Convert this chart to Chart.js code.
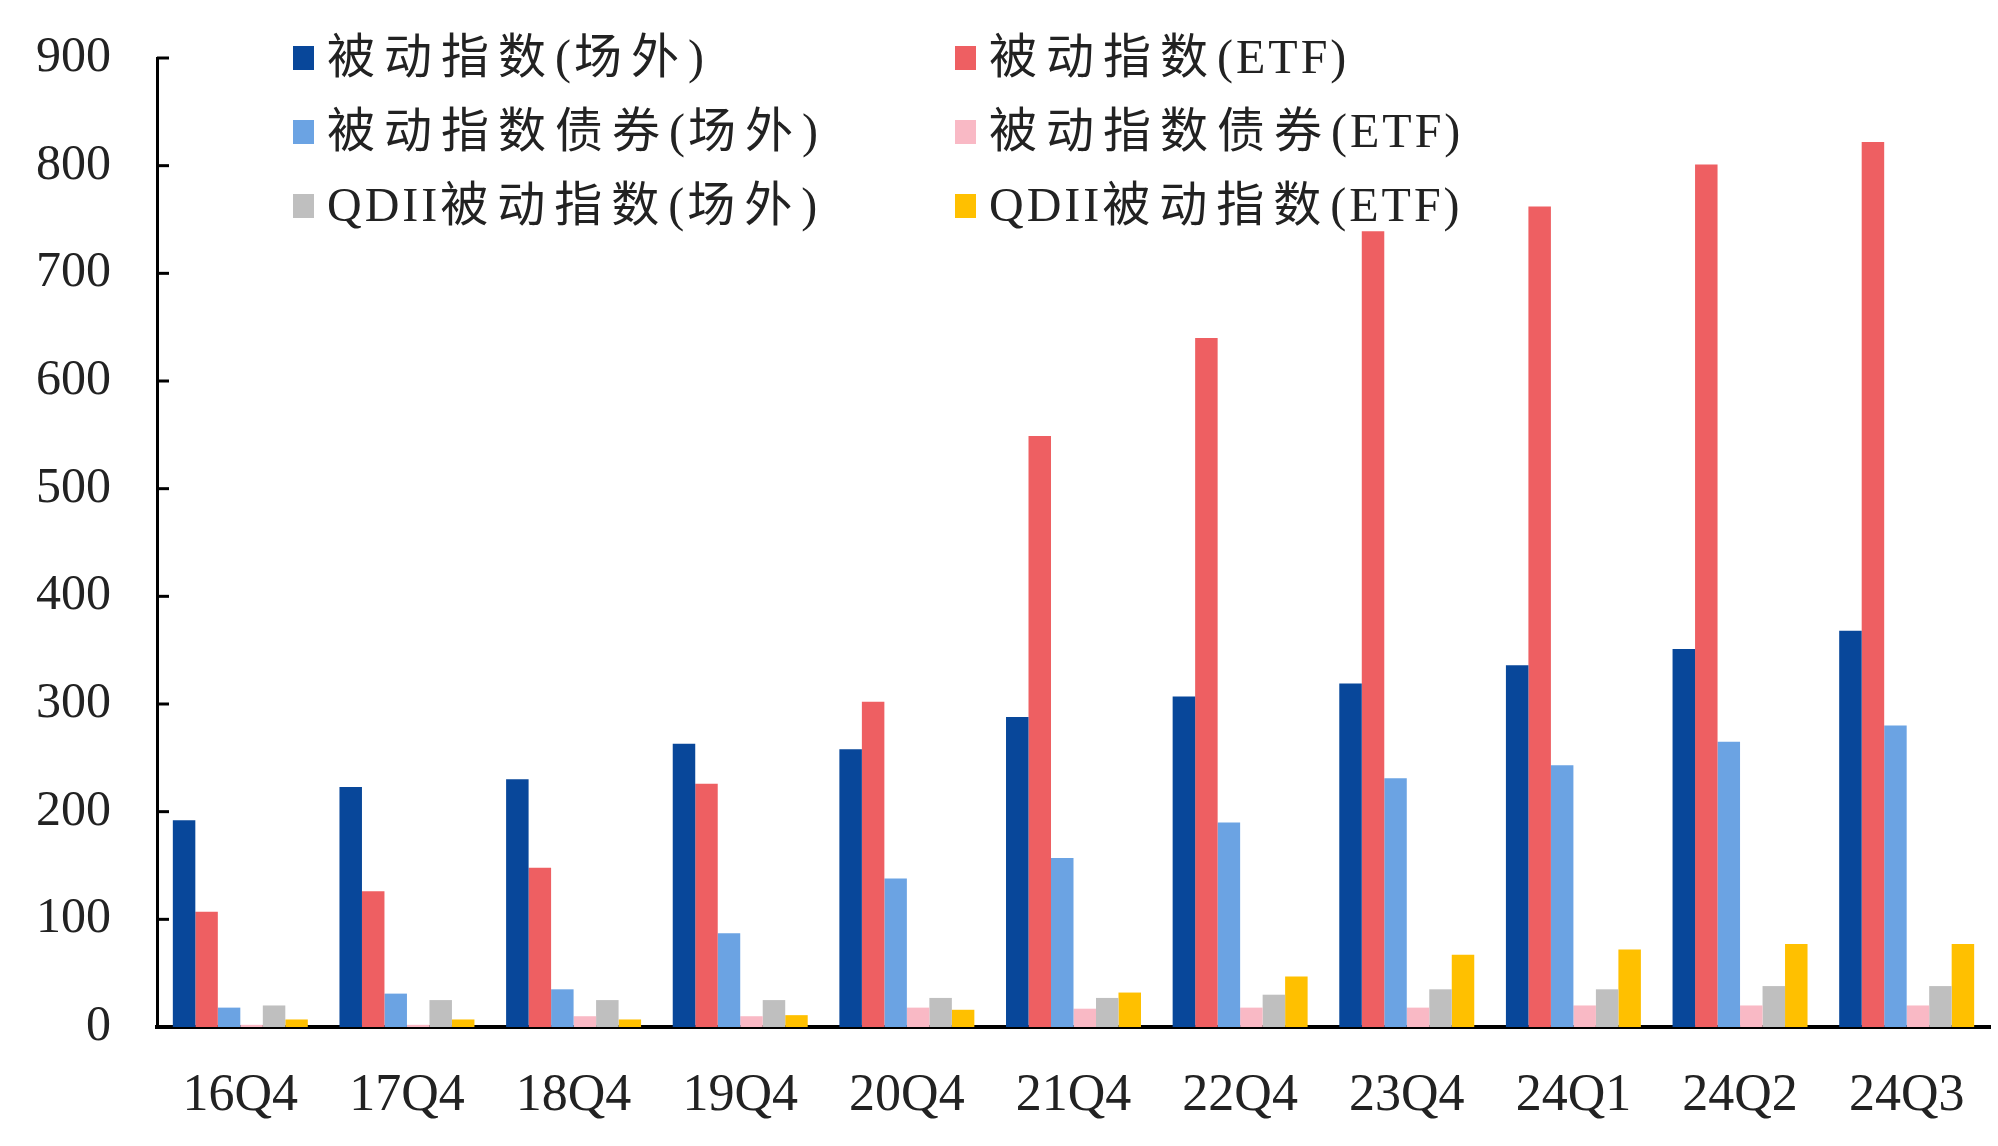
<!DOCTYPE html>
<html lang="zh">
<head>
  <meta charset="UTF-8">
  <title>被动指数基金规模</title>
  <style>
    html, body { margin: 0; padding: 0; background: #fff; }
    #wrap { width: 1998px; height: 1146px; }
  </style>
  <script src="https://cdn.jsdelivr.net/npm/chart.js"></script>
</head>
<body>
  <div id="wrap"><canvas id="chart"></canvas></div>
  <script>
    // 数据
    const quarters = ['16Q4', '17Q4', '18Q4', '19Q4', '20Q4', '21Q4', '22Q4', '23Q4', '24Q1', '24Q2', '24Q3'];
    const seriesNames = ['被动指数(场外)', '被动指数(ETF)', '被动指数债券(场外)', '被动指数债券(ETF)', 'QDII被动指数(场外)', 'QDII被动指数(ETF)'];
    const passiveOTC = [192, 223, 230, 263, 258, 288, 307, 319, 336, 351, 368];
    const passiveETF = [107, 126, 148, 226, 302, 549, 640, 739, 762, 801, 822];
    const bondOTC = [18, 31, 35, 87, 138, 157, 190, 231, 243, 265, 280];
    const bondETF = [2, 2, 10, 10, 18, 17, 18, 18, 20, 20, 20];
    const qdiiOTC = [20, 25, 25, 25, 27, 27, 30, 35, 35, 38, 38];
    const qdiiETF = [7, 7, 7, 11, 16, 32, 47, 67, 72, 77, 77];
    const yTicks = [0, 100, 200, 300, 400, 500, 600, 700, 800, 900];

    const colors = ['#08479A', '#EE5F62', '#6BA3E3', '#F9B9C5', '#BFBFBF', '#FFC000'];
    const allSeries = [passiveOTC, passiveETF, bondOTC, bondETF, qdiiOTC, qdiiETF];

    const serif = '"Liberation Serif", "Noto Sans CJK SC", serif';

    // 逐字绘制：汉字字距大，英文字距小
    function drawSpaced(ctx, text, x, y) {
      for (const ch of text) {
        ctx.fillText(ch, x, y);
        const cjk = /[\u4e00-\u9fff]/.test(ch);
        x += ctx.measureText(ch).width + (cjk ? 9 : 3);
      }
    }

    // 图例画在绘图区内，两列三行
    const legendInside = {
      id: 'legendInside',
      afterDraw(chart) {
        const ctx = chart.ctx;
        const area = chart.chartArea;
        ctx.save();
        ctx.font = '48px ' + serif;
        ctx.textBaseline = 'middle';
        chart.data.datasets.forEach((ds, i) => {
          const col = i % 2;
          const row = Math.floor(i / 2);
          const x = area.left + (col === 0 ? 136 : 798);
          const y = area.top + row * 74;
          ctx.fillStyle = ds.backgroundColor;
          ctx.fillRect(x, y - 12, 21, 24);
          ctx.fillStyle = '#222';
          drawSpaced(ctx, ds.label, x + 34, y + 2);
        });
        ctx.restore();
      }
    };

    // 纵轴刻度线朝内
    const innerTicks = {
      id: 'innerTicks',
      afterDraw(chart) {
        const ctx = chart.ctx;
        const ys = chart.scales.y;
        ctx.save();
        ctx.strokeStyle = '#000';
        ctx.lineWidth = 3;
        yTicks.forEach(v => {
          const py = ys.getPixelForValue(v);
          ctx.beginPath();
          ctx.moveTo(ys.right, py);
          ctx.lineTo(ys.right + 12, py);
          ctx.stroke();
        });
        ctx.restore();
      }
    };

    new Chart(document.getElementById('chart'), {
      type: 'bar',
      data: {
        labels: quarters,
        datasets: seriesNames.map((name, i) => ({
          label: name,
          data: allSeries[i],
          backgroundColor: colors[i],
          borderWidth: 0,
          categoryPercentage: 0.81,
          barPercentage: 1.0
        }))
      },
      options: {
        responsive: true,
        maintainAspectRatio: false,
        animation: false,
        layout: { padding: { top: 58, right: 8, bottom: 0, left: 0 } },
        plugins: {
          legend: { display: false },
          tooltip: { enabled: false }
        },
        scales: {
          x: {
            grid: { display: false },
            border: { display: true, color: '#000', width: 4 },
            ticks: { color: '#222', font: { family: serif, size: 52 }, padding: 30, maxRotation: 0 },
            afterFit(scale) { scale.height = 119; }
          },
          y: {
            min: 0,
            max: 900,
            grid: { display: false },
            border: { display: true, color: '#000', width: 3 },
            afterBuildTicks(scale) { scale.ticks = yTicks.map(v => ({ value: v })); },
            ticks: { color: '#222', font: { family: serif, size: 50 }, padding: 38 },
            afterFit(scale) {
              scale.width = 157;
              scale.paddingTop = 0;
              scale.paddingBottom = 0;
            }
          }
        }
      },
      plugins: [legendInside, innerTicks]
    });
  </script>
</body>
</html>
